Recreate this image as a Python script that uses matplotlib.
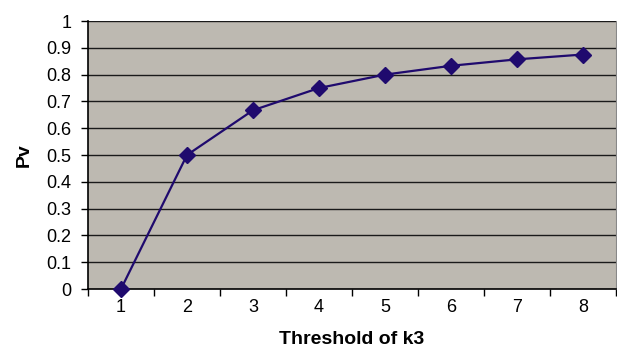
import matplotlib.pyplot as plt


thresholds  = [1, 2, 3, 4, 5, 6, 7, 8]
pv_values   = [0.0, 0.5, 0.667, 0.75, 0.8, 0.833, 0.857, 0.875]
y_ticks     = [0, 0.1, 0.2, 0.3, 0.4, 0.5, 0.6, 0.7, 0.8, 0.9, 1]
y_labels    = ["0", "0.1", "0.2", "0.3", "0.4", "0.5", "0.6", "0.7", "0.8", "0.9", "1"]


def main():
  plt.rcParams["font.family"] = ["Liberation Sans", "DejaVu Sans"]

  fig = plt.figure(figsize=(6.17, 3.51), dpi=100)
  ax  = fig.add_axes([0.1426, 0.1766, 0.8558, 0.7635])
  ax.set_facecolor("#bdb9b1")

  # Lignes horizontales de la grille, style Excel
  for y in y_ticks[1:]:
    ax.axhline(y, color="#1a1a1a", linewidth=1.0, zorder=1)

  ax.plot(thresholds, pv_values, color="#1f0a6e", linewidth=1.6,
          marker="D", markersize=8.5, zorder=3, clip_on=False)

  ax.set_xlim(0.5, 8.5)
  ax.set_ylim(0, 1)

  # Graduations entre les catégories sur l'axe x
  ax.set_xticks([x + 0.5 for x in range(0, 9)], minor=False)
  ax.set_xticklabels([])
  ax.set_xticks(thresholds, minor=True)
  ax.set_xticklabels([str(t) for t in thresholds], minor=True, fontsize=13)
  ax.tick_params(axis="x", which="minor", length=0, pad=7)
  ax.tick_params(axis="x", which="major", length=5, width=1, direction="out")

  ax.set_yticks(y_ticks)
  ax.set_yticklabels(y_labels, fontsize=13)
  ax.tick_params(axis="y", length=5, width=1, direction="out", pad=7)

  ax.spines["top"].set_visible(False)
  ax.spines["right"].set_color("#888888")
  ax.spines["left"].set_linewidth(1.2)
  ax.spines["bottom"].set_linewidth(1.2)

  ax.set_xlabel("Threshold of k3", fontsize=14, fontweight="bold", labelpad=11)
  ax.set_ylabel("Pv", fontsize=14, fontweight="bold", labelpad=10)

  fig.savefig("out.png", dpi=100)
  plt.close(fig)


if __name__ == "__main__":
  main()
